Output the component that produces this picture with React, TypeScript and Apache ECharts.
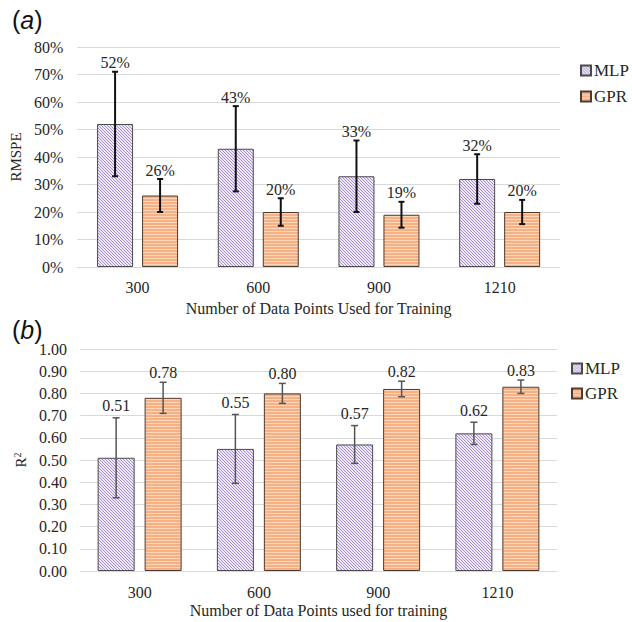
import React, { useEffect, useRef } from 'react';
import * as echarts from 'echarts';

const categories = ['300', '600', '900', '1210'];
const seriesNames = ['MLP', 'GPR'];
const rmspeMLP = [52, 43, 33, 32];
const rmspeMLPErr = [19, 15.5, 13, 9];
const rmspeGPR = [26, 20, 19, 20];
const rmspeGPRErr = [6, 5, 4.7, 4.4];
const r2MLP = [0.51, 0.55, 0.57, 0.62];
const r2MLPErr = [0.18, 0.155, 0.085, 0.05];
const r2GPR = [0.78, 0.8, 0.82, 0.83];
const r2GPRErr = [0.07, 0.045, 0.035, 0.03];

const SERIF = '"Liberation Serif", "Times New Roman", serif';
const SANS = '"Liberation Sans", Arial, sans-serif';

function makeHatch(): HTMLCanvasElement {
  const c = document.createElement('canvas');
  c.width = 3;
  c.height = 3;
  const ctx = c.getContext('2d')!;
  ctx.fillStyle = '#efe8f7';
  ctx.fillRect(0, 0, 3, 3);
  ctx.fillStyle = '#a88ed2';
  for (let i = 0; i < 3; i++) ctx.fillRect(i, i, 1, 1);
  return c;
}

function makeStripes(): HTMLCanvasElement {
  const c = document.createElement('canvas');
  c.width = 4;
  c.height = 3;
  const ctx = c.getContext('2d')!;
  ctx.fillStyle = '#f5b083';
  ctx.fillRect(0, 0, 4, 3);
  ctx.fillStyle = '#fbd6ba';
  ctx.fillRect(0, 0, 4, 1);
  return c;
}

function errSeries(
  xi: number,
  vals: number[],
  errs: number[],
  offset: number,
  fmt: (v: number) => string,
  color: string,
  lw: number,
  cap: number,
  gap: number
) {
  return {
    type: 'custom',
    xAxisIndex: xi,
    yAxisIndex: xi,
    z: 10,
    silent: true,
    data: vals.map((v, i) => [i, v, errs[i]]),
    renderItem: (params: any, api: any) => {
      const i = api.value(0);
      const v = api.value(1);
      const e = api.value(2);
      const hi = api.coord([i, v + e]);
      const lo = api.coord([i, v - e]);
      const x = hi[0] + offset;
      const st = { stroke: color, lineWidth: lw };
      return {
        type: 'group',
        children: [
          { type: 'line', shape: { x1: x, y1: hi[1], x2: x, y2: lo[1] }, style: st },
          { type: 'line', shape: { x1: x - cap, y1: hi[1], x2: x + cap, y2: hi[1] }, style: st },
          { type: 'line', shape: { x1: x - cap, y1: lo[1], x2: x + cap, y2: lo[1] }, style: st },
          {
            type: 'text',
            x: x,
            y: hi[1] - gap,
            style: {
              text: fmt(v),
              textAlign: 'center',
              textVerticalAlign: 'bottom',
              font: `16px ${SERIF}`,
              fill: '#262626',
            },
          },
        ],
      };
    },
  };
}

export default function App() {
  const ref = useRef<HTMLDivElement>(null);
  useEffect(() => {
    if (!ref.current) return;
    const chart = echarts.init(ref.current, null, { renderer: 'svg' });
    const hatch = makeHatch();
    const stripes = makeStripes();
    const mlpStyle = {
      color: { image: hatch, repeat: 'repeat' },
      borderColor: '#4a4a4a',
      borderWidth: 1,
    };
    const gprStyle = {
      color: { image: stripes, repeat: 'repeat' },
      borderColor: '#4d3a30',
      borderWidth: 1,
    };
    const axisLabel = { fontFamily: SERIF, fontSize: 16, color: '#262626' };
    const legendBase = {
      orient: 'vertical',
      itemWidth: 10,
      itemHeight: 10,
      icon: 'rect',
      data: seriesNames,
      textStyle: { fontFamily: SERIF, fontSize: 17, color: '#262626', padding: [0, 0, 0, -2] },
    };
    const option: any = {
      animation: false,
      backgroundColor: '#ffffff',
      graphic: [
        {
          type: 'text',
          left: 12,
          top: 7,
          style: {
            text: '({i|a})',
            font: `25px ${SANS}`,
            fill: '#111',
            rich: { i: { fontStyle: 'italic', fontSize: 25, fontFamily: SANS } },
          },
        },
        {
          type: 'text',
          left: 12,
          top: 317,
          style: {
            text: '({i|b})',
            font: `25px ${SANS}`,
            fill: '#111',
            rich: { i: { fontStyle: 'italic', fontSize: 25, fontFamily: SANS } },
          },
        },
      ],
      legend: [
        { ...legendBase, left: 575, top: 57, itemGap: 9 },
        { ...legendBase, left: 566, top: 355, itemGap: 8 },
      ],
      grid: [
        { left: 76, top: 47, width: 484, height: 220 },
        { left: 80, top: 349, width: 477, height: 222 },
      ],
      xAxis: [
        {
          type: 'category',
          gridIndex: 0,
          data: categories,
          axisLine: { lineStyle: { color: '#d9d9d9' } },
          axisTick: { show: false },
          axisLabel: { ...axisLabel, margin: 12 },
          name: 'Number of Data Points Used for Training',
          nameLocation: 'middle',
          nameGap: 33,
          nameTextStyle: { fontFamily: SERIF, fontSize: 16, color: '#262626' },
        },
        {
          type: 'category',
          gridIndex: 1,
          data: categories,
          axisLine: { lineStyle: { color: '#d9d9d9' } },
          axisTick: { show: false },
          axisLabel: { ...axisLabel, margin: 13 },
          name: 'Number of Data Points used for training',
          nameLocation: 'middle',
          nameGap: 31,
          nameTextStyle: { fontFamily: SERIF, fontSize: 16, color: '#262626' },
        },
      ],
      yAxis: [
        {
          type: 'value',
          gridIndex: 0,
          min: 0,
          max: 80,
          interval: 10,
          axisLine: { show: false },
          axisTick: { show: false },
          splitLine: { lineStyle: { color: '#d9d9d9' } },
          axisLabel: { ...axisLabel, margin: 14, formatter: '{value}%' },
          name: 'RMSPE',
          nameLocation: 'middle',
          nameGap: 49,
          nameTextStyle: { fontFamily: SERIF, fontSize: 15, color: '#262626' },
        },
        {
          type: 'value',
          gridIndex: 1,
          min: 0,
          max: 1,
          interval: 0.1,
          axisLine: { show: false },
          axisTick: { show: false },
          splitLine: { lineStyle: { color: '#d9d9d9' } },
          axisLabel: { ...axisLabel, margin: 13, formatter: (v: number) => v.toFixed(2) },
          name: 'R{s|2}',
          nameLocation: 'middle',
          nameGap: 50,
          nameTextStyle: {
            fontFamily: SERIF,
            fontSize: 15,
            color: '#262626',
            rich: { s: { fontFamily: SERIF, fontSize: 10, verticalAlign: 'top', padding: [0, 0, 6, 0] } },
          },
        },
      ],
      series: [
        { type: 'bar', name: 'MLP', xAxisIndex: 0, yAxisIndex: 0, data: rmspeMLP, barWidth: 36, barGap: '25%', itemStyle: mlpStyle },
        { type: 'bar', name: 'GPR', xAxisIndex: 0, yAxisIndex: 0, data: rmspeGPR, barWidth: 36, barGap: '25%', itemStyle: gprStyle },
        { type: 'bar', name: 'MLP', xAxisIndex: 1, yAxisIndex: 1, data: r2MLP, barWidth: 37, barGap: '27%', itemStyle: mlpStyle },
        { type: 'bar', name: 'GPR', xAxisIndex: 1, yAxisIndex: 1, data: r2GPR, barWidth: 37, barGap: '27%', itemStyle: gprStyle },
        errSeries(0, rmspeMLP, rmspeMLPErr, -22.5, (v) => `${Math.round(v)}%`, '#111111', 2, 3, 1),
        errSeries(0, rmspeGPR, rmspeGPRErr, 22.5, (v) => `${Math.round(v)}%`, '#111111', 2, 3, 1),
        errSeries(1, r2MLP, r2MLPErr, -23.5, (v) => v.toFixed(2), '#555555', 1.5, 3.5, 4),
        errSeries(1, r2GPR, r2GPRErr, 23.5, (v) => v.toFixed(2), '#555555', 1.5, 3.5, 2),
      ],
    };
    chart.setOption(option);
    return () => chart.dispose();
  }, []);
  return (
    <div
      ref={ref}
      style={{ position: 'absolute', left: 0, top: 0, width: 632, height: 622, background: '#fff' }}
    />
  );
}
